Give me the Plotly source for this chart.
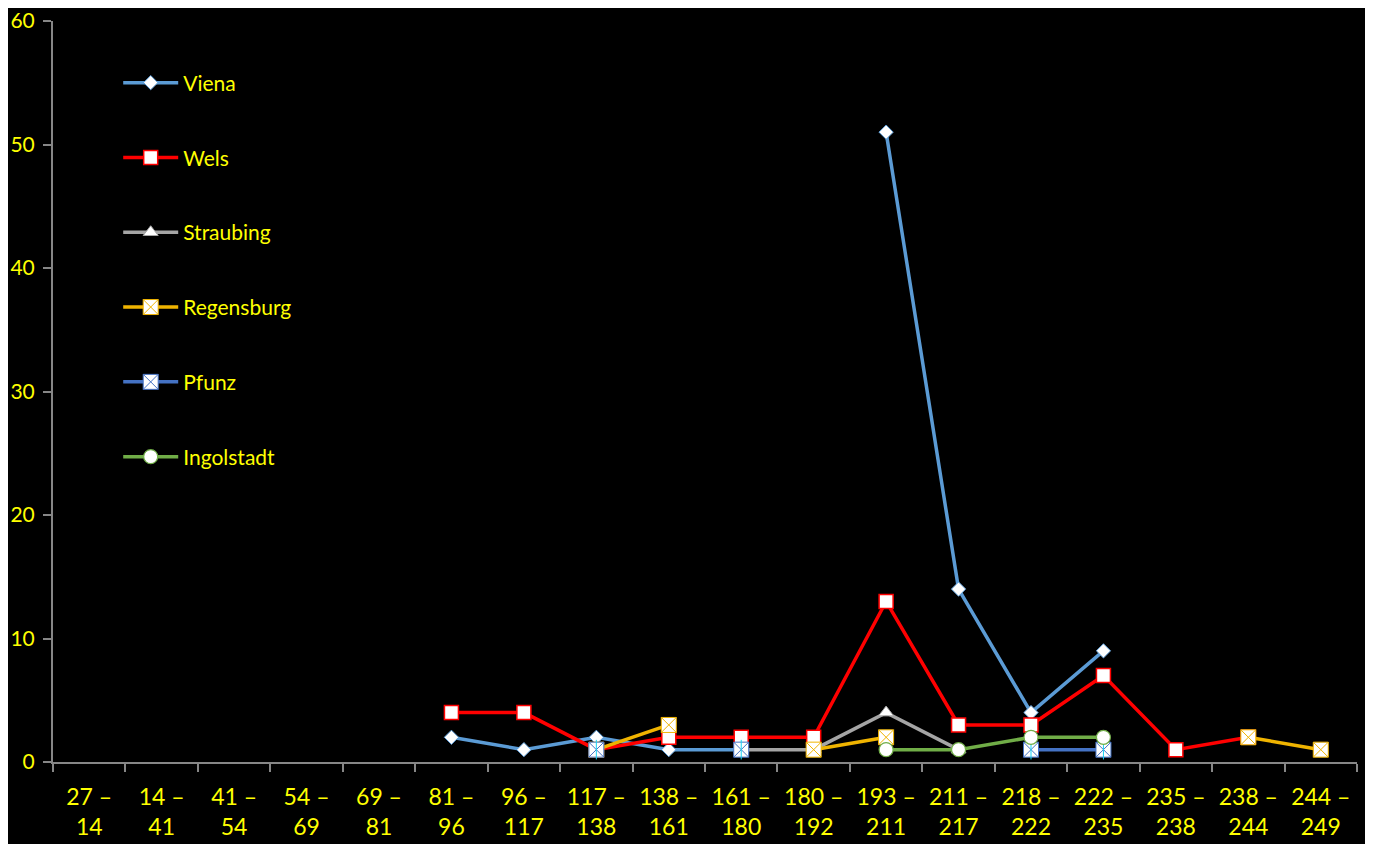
import plotly.graph_objects as go

categories = ["27 – 14", "14 – 41", "41 – 54", "54 – 69", "69 – 81", "81 – 96",
              "96 – 117", "117 – 138", "138 – 161", "161 – 180", "180 – 192",
              "193 – 211", "211 – 217", "218 – 222", "222 – 235", "235 – 238",
              "238 – 244", "244 – 249"]

N = None
viena      = [N, N, N, N, N, 2, 1, 2, 1, 1, N, 51, 14, 4, 9, N, N, N]
wels       = [N, N, N, N, N, 4, 4, 1, 2, 2, 2, 13, 3, 3, 7, 1, 2, N]
straubing  = [N, N, N, N, N, N, N, N, N, 1, 1, 4, 1, N, N, N, N, N]
regensburg = [N, N, N, N, N, N, N, 1, 3, N, 1, 2, N, N, N, N, 2, 1]
pfunz      = [N, N, N, N, N, N, N, 1, N, 1, N, N, N, 1, 1, N, N, N]
ingolstadt = [N, N, N, N, N, N, N, N, N, N, N, 1, 1, 2, 2, N, N, N]

tick_text = [c.replace(" – ", " –<br>") for c in categories]

FONT = "Lato"
YELLOW = "#FFFF00"
AXIS = "#868686"

series = [
    ("Viena", viena, "#5B9BD5", "diamond", 11, 1),
    ("Wels", wels, "#FF0000", "square", 14, 1.5),
    ("Straubing", straubing, "#A5A5A5", "triangle-up", 13, 1),
    ("Regensburg", regensburg, "#F0B400", "square-x", 15, 1),
    ("Pfunz", pfunz, "#4472C4", "square-x", 15, 1),
    ("Ingolstadt", ingolstadt, "#70AD47", "circle", 14, 1.2),
]

fig = go.Figure()
for name, vals, color, sym, size, lw in series:
    fig.add_trace(go.Scatter(
        x=categories, y=vals, name=name, mode="lines+markers",
        legendgroup=name,
        line=dict(color=color, width=3.5),
        marker=dict(symbol=sym, size=size, color="white",
                    line=dict(color=color, width=lw)),
        connectgaps=False,
    ))
    if name == "Pfunz":
        fig.add_trace(go.Scatter(
            x=categories, y=vals, mode="markers", showlegend=False,
            legendgroup=name, hoverinfo="skip",
            marker=dict(symbol="line-ns-open", size=14,
                        line=dict(color=color, width=1)),
        ))

fig.update_layout(
    width=1357, height=836,
    margin=dict(l=45, r=8, t=13, b=82),
    paper_bgcolor="black", plot_bgcolor="black",
    font=dict(family=FONT, color=YELLOW, size=20),
    showlegend=True,
    legend=dict(
        x=0.05, y=0.944, xanchor="left", yanchor="top",
        bgcolor="rgba(0,0,0,0)",
        font=dict(family=FONT, color=YELLOW, size=21),
        tracegroupgap=44.5,
        itemwidth=55,
    ),
    xaxis=dict(
        type="category", categoryorder="array", categoryarray=categories,
        range=[-0.5, len(categories) - 0.5],
        tickmode="array", tickvals=categories, ticktext=tick_text,
        tickson="boundaries", ticks="outside", ticklen=8, tickwidth=1.5,
        tickcolor=AXIS, showline=True, linecolor=AXIS, linewidth=2,
        showgrid=False, zeroline=False, automargin=False,
        tickfont=dict(family=FONT, color=YELLOW, size=23),
        ticklabelstandoff=13, ticklabeloverflow="allow",
    ),
    yaxis=dict(
        range=[0, 60], dtick=10, tick0=0,
        ticks="outside", ticklen=8, tickwidth=1.5, tickcolor=AXIS,
        showline=True, linecolor=AXIS, linewidth=2,
        showgrid=False, zeroline=False, automargin=False,
        tickfont=dict(family=FONT, color=YELLOW, size=21),
        ticklabelstandoff=4, ticklabeloverflow="allow",
    ),
)

fig.write_html("out.html")
